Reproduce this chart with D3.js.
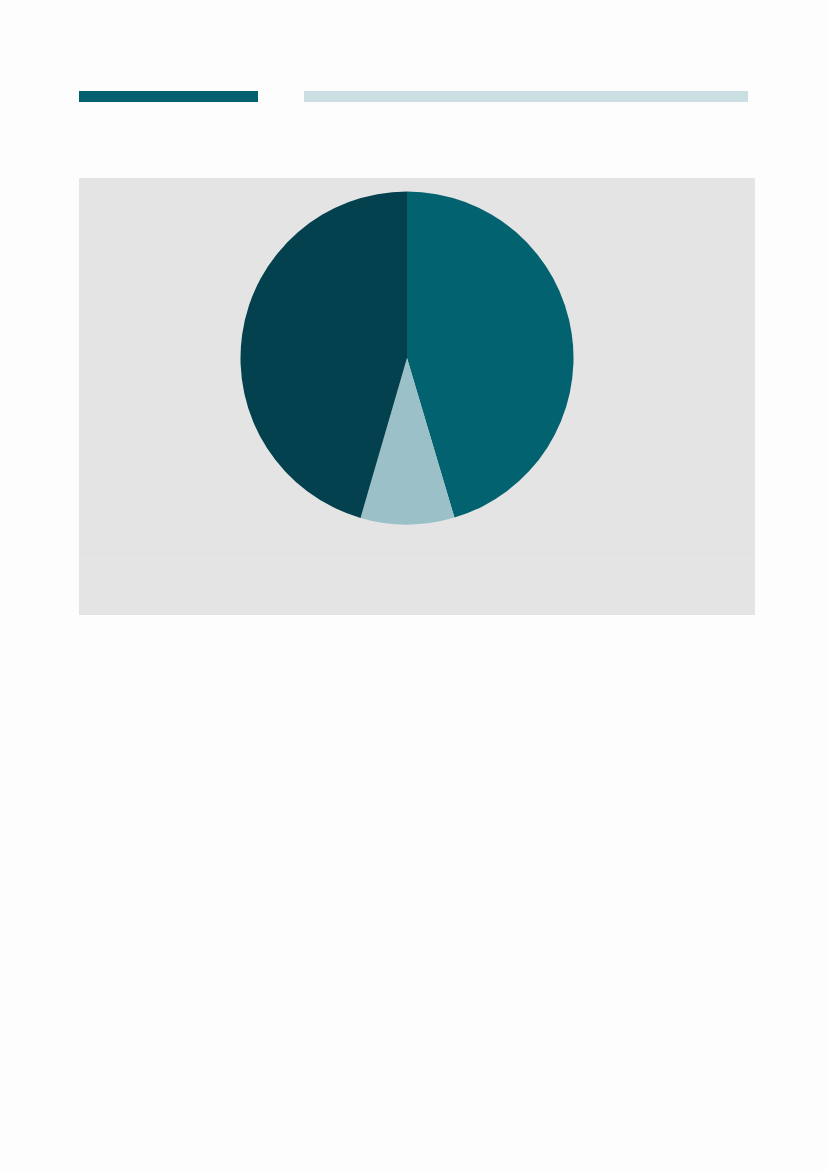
<!DOCTYPE html>
<html>
<head>
<meta charset="utf-8">
<script src="https://cdn.jsdelivr.net/npm/d3@7"></script>
<style>
  html, body { margin: 0; padding: 0; background: #fdfdfd; }
  svg { display: block; }
</style>
</head>
<body>
<div id="chart"></div>
<script>
// slice data, clockwise from 12 o'clock
var categories = ['A', 'B', 'C'];
var values = [45.4, 9.1, 45.5];
var colors = ['#03626f', '#9bc0c7', '#02414d'];

var width = 827, height = 1170;

var svg = d3.select('#chart').append('svg')
  .attr('width', width)
  .attr('height', height);

// header bars
svg.append('rect')
  .attr('x', 79).attr('y', 91)
  .attr('width', 179).attr('height', 11)
  .attr('fill', '#03606f');
svg.append('rect')
  .attr('x', 304).attr('y', 91)
  .attr('width', 444).attr('height', 11)
  .attr('fill', '#cbdfe2');

// grey panel
svg.append('rect')
  .attr('x', 79).attr('y', 178)
  .attr('width', 676).attr('height', 437)
  .attr('fill', '#e4e4e4');

// faint divider lines in panel
svg.append('line')
  .attr('x1', 79).attr('x2', 755)
  .attr('y1', 559.5).attr('y2', 559.5)
  .attr('stroke', '#e7e7e7').attr('stroke-width', 1);
svg.append('line')
  .attr('x1', 113.5).attr('x2', 113.5)
  .attr('y1', 560).attr('y2', 614)
  .attr('stroke', '#e6e6e6').attr('stroke-width', 1);

// pie
var cx = 407, cy = 358, r = 166.5;

var pie = d3.pie().sort(null).value(function (d) { return d; });
var arc = d3.arc().innerRadius(0).outerRadius(r);

var g = svg.append('g')
  .attr('transform', 'translate(' + cx + ',' + cy + ')');

g.selectAll('path')
  .data(pie(values))
  .enter()
  .append('path')
  .attr('d', arc)
  .attr('fill', function (d, i) { return colors[i]; });
</script>
</body>
</html>
